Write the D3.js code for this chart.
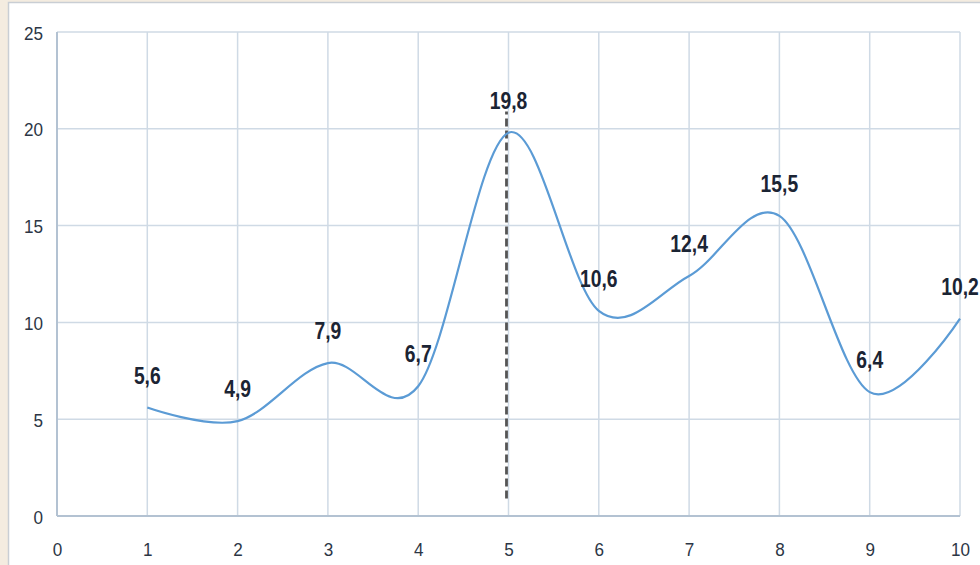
<!DOCTYPE html>
<html>
<head>
<meta charset="utf-8">
<script src="https://cdn.jsdelivr.net/npm/d3@7"></script>
<style>
  html, body { margin: 0; padding: 0; background: #f4ece0; }
  svg { display: block; }
</style>
</head>
<body>
<svg id="chart" width="980" height="565"></svg>
<script>
const categories = [1, 2, 3, 4, 5, 6, 7, 8, 9, 10];
const values = [5.6, 4.9, 7.9, 6.7, 19.8, 10.6, 12.4, 15.5, 6.4, 10.2];
const xTicks = [0, 1, 2, 3, 4, 5, 6, 7, 8, 9, 10];
const yTicks = [0, 5, 10, 15, 20, 25];
const markerCategory = 5;

const svg = d3.select("#chart");
const W = 980, H = 565;

// frame
svg.append("rect").attr("x", 0).attr("y", 0).attr("width", W).attr("height", H).attr("fill", "#f4ece0");
svg.append("rect").attr("x", 8.5).attr("y", 2.5).attr("width", W).attr("height", H)
  .attr("fill", "#ffffff").attr("stroke", "#c9ced4").attr("stroke-width", 1.5);

const x = d3.scaleLinear().domain([0, 10]).range([57, 960]);
const y = d3.scaleLinear().domain([0, 25]).range([516, 32]);

const grid = svg.append("g");
grid.selectAll("line.h").data(yTicks.filter(d => d > 0)).join("line")
  .attr("x1", x(0)).attr("x2", x(10))
  .attr("y1", d => y(d)).attr("y2", d => y(d))
  .attr("stroke", "#cfdae5").attr("stroke-width", 1.5);
grid.selectAll("line.v").data(xTicks.filter(d => d > 0)).join("line")
  .attr("x1", d => x(d)).attr("x2", d => x(d))
  .attr("y1", y(0)).attr("y2", y(25))
  .attr("stroke", "#cfdae5").attr("stroke-width", 1.5);
svg.append("line").attr("x1", x(0)).attr("x2", x(0)).attr("y1", y(0)).attr("y2", y(25))
  .attr("stroke", "#b3c2d2").attr("stroke-width", 2);
svg.append("line").attr("x1", x(0)).attr("x2", x(10)).attr("y1", y(0)).attr("y2", y(0))
  .attr("stroke", "#b3c2d2").attr("stroke-width", 2);

// axes (tick labels only), slightly condensed to mimic Calibri
const tickFont = "'Liberation Sans', Arial, sans-serif";
const yAxis = svg.append("g").attr("transform", `translate(${x(0)},0)`)
  .call(d3.axisLeft(y).tickValues(yTicks).tickSize(0).tickPadding(0).tickFormat(d3.format("d")));
const xAxis = svg.append("g").attr("transform", `translate(0,${y(0)})`)
  .call(d3.axisBottom(x).tickValues(xTicks).tickSize(0).tickPadding(0).tickFormat(d3.format("d")));
[yAxis, xAxis].forEach(a => {
  a.select(".domain").remove();
  a.selectAll("text").attr("font-family", tickFont).attr("font-size", 19).attr("fill", "#2c3645")
    .attr("x", null).attr("y", null).attr("dy", null);
});
yAxis.selectAll("text").attr("text-anchor", "end")
  .attr("transform", "translate(-14,7) scale(0.9,1)");
xAxis.selectAll("text").attr("text-anchor", "middle")
  .attr("transform", "translate(0,40) scale(0.9,1)");

// dashed marker line at the peak
const peakVal = values[categories.indexOf(markerCategory)];
svg.append("line")
  .attr("x1", x(markerCategory) - 2).attr("x2", x(markerCategory) - 2)
  .attr("y1", y(0.9)).attr("y2", y(peakVal + 1.1))
  .attr("stroke", "#555555").attr("stroke-width", 2.8).attr("stroke-dasharray", "8,4");

// smoothed line
const data = categories.map((c, i) => ({ c, v: values[i] }));
const line = d3.line().x(d => x(d.c)).y(d => y(d.v)).curve(d3.curveCardinal.tension(0));
svg.append("path").datum(data).attr("d", line)
  .attr("fill", "none").attr("stroke", "#5b9bd5").attr("stroke-width", 2.2);

// data labels (bold, condensed)
const fmt = v => d3.format(".1f")(v).replace(".", ",");
svg.append("g").selectAll("text").data(data).join("text")
  .attr("transform", d => `translate(${x(d.c)},${y(d.v) - 24}) scale(0.84,1)`)
  .attr("text-anchor", "middle")
  .attr("font-family", "'Liberation Sans', Arial, sans-serif")
  .attr("font-weight", "bold")
  .attr("font-size", 23)
  .attr("fill", "#1b2434")
  .text(d => fmt(d.v));
</script>
</body>
</html>
